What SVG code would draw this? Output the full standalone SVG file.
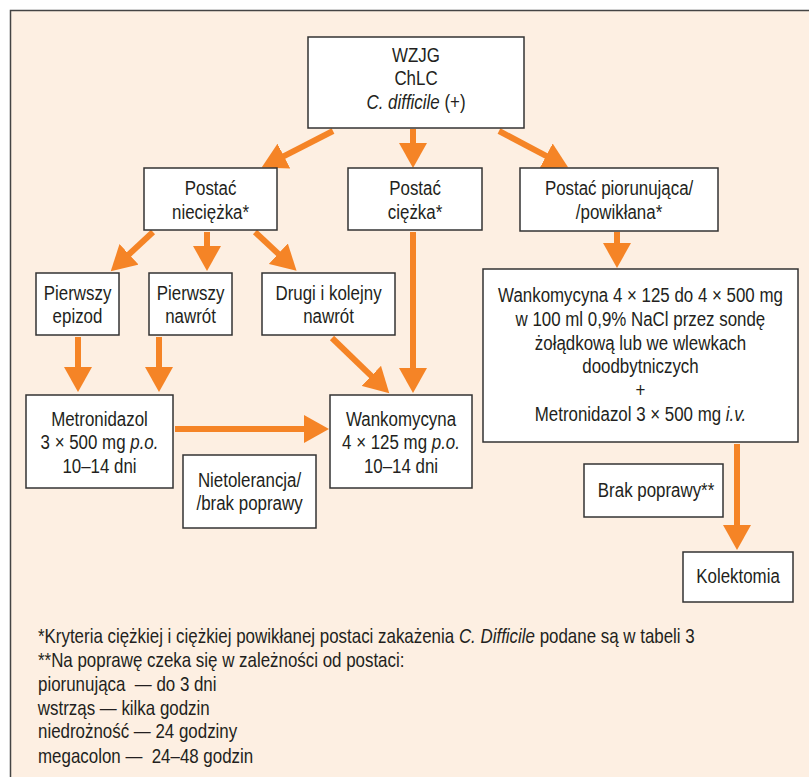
<svg xmlns="http://www.w3.org/2000/svg" width="809" height="777" viewBox="0 0 809 777">
<style>
.box{fill:#fff;stroke:#333;stroke-width:1.5}
.t{font-family:"Liberation Sans",Arial,sans-serif;font-size:21px;fill:#231f20;text-anchor:middle;transform:scaleX(0.805);transform-box:fill-box;transform-origin:center}
.f{font-family:"Liberation Sans",Arial,sans-serif;font-size:20.5px;fill:#231f20;transform:scaleX(0.825);transform-box:fill-box;transform-origin:left center}
.a{stroke:#f58426;stroke-width:6;fill:none;marker-end:url(#ah)}
</style>
<defs>
<marker id="ah" markerUnits="userSpaceOnUse" viewBox="0 -14 26 28" markerWidth="26" markerHeight="28" refX="1" refY="0" orient="auto">
<path d="M0,-14 L25,0 L0,14 Z" fill="#f58426"/>
</marker>
</defs>
<rect x="10.5" y="10.5" width="820" height="800" fill="#fdefe2" stroke="#444" stroke-width="1.5"/>
<g id="connectors">
<line class="a" x1="333" y1="131" x2="283" y2="156.6"/>
<line class="a" x1="413" y1="129" x2="413" y2="144"/>
<line class="a" x1="499" y1="131" x2="547" y2="156.3"/>
<line class="a" x1="153" y1="232" x2="128.3" y2="255"/>
<line class="a" x1="207" y1="232" x2="207" y2="247"/>
<line class="a" x1="255" y1="232" x2="279" y2="254.4"/>
<line class="a" x1="617" y1="232" x2="617" y2="244"/>
<line class="a" x1="78" y1="337" x2="78" y2="368"/>
<line class="a" x1="159" y1="337" x2="159" y2="368"/>
<line class="a" x1="175" y1="429" x2="305" y2="429"/>
<line class="a" x1="332" y1="338" x2="372" y2="376.6"/>
<line class="a" x1="413" y1="232" x2="413" y2="369"/>
<line class="a" x1="737" y1="444" x2="737" y2="526"/>
</g>
<g id="n_start"><rect class="box" x="308" y="37" width="216" height="91"/>
<text class="t" x="416" y="62">WZJG</text><text class="t" x="416" y="85">ChLC</text><text class="t" x="416" y="109"><tspan font-style="italic">C. difficile</tspan> (+)</text></g>
<g id="n_nieciezka"><rect class="box" x="144" y="168" width="133" height="62"/>
<text class="t" x="210.5" y="195">Postać</text><text class="t" x="210.5" y="219">nieciężka*</text></g>
<g id="n_ciezka"><rect class="box" x="348" y="168" width="134" height="62"/>
<text class="t" x="415" y="195">Postać</text><text class="t" x="415" y="219">ciężka*</text></g>
<g id="n_piorun"><rect class="box" x="520" y="168" width="198" height="63"/>
<text class="t" x="619" y="195">Postać piorunująca/</text><text class="t" x="619" y="219">/powikłana*</text></g>
<g id="n_epizod"><rect class="box" x="36" y="273" width="83" height="62"/>
<text class="t" x="77.5" y="300">Pierwszy</text><text class="t" x="77.5" y="323">epizod</text></g>
<g id="n_nawrot"><rect class="box" x="149" y="273" width="83" height="62"/>
<text class="t" x="190.5" y="300">Pierwszy</text><text class="t" x="190.5" y="323">nawrót</text></g>
<g id="n_drugi"><rect class="box" x="262" y="273" width="133" height="62"/>
<text class="t" x="328.5" y="300">Drugi i kolejny</text><text class="t" x="328.5" y="323">nawrót</text></g>
<g id="n_wank_big"><rect class="box" x="483" y="269" width="315" height="173"/>
<text class="t" x="640.5" y="302">Wankomycyna 4 × 125 do 4 × 500 mg</text>
<text class="t" x="640.5" y="326">w 100 ml 0,9% NaCl przez sondę</text>
<text class="t" x="640.5" y="350">żołądkową lub we wlewkach</text>
<text class="t" x="640.5" y="373">doodbytniczych</text>
<text class="t" x="640.5" y="397">+</text>
<text class="t" x="640.5" y="421">Metronidazol 3 × 500 mg <tspan font-style="italic">i.v.</tspan></text></g>
<g id="n_metro"><rect class="box" x="26" y="395" width="147" height="93"/>
<text class="t" x="99.5" y="426">Metronidazol</text><text class="t" x="99.5" y="449">3 × 500 mg <tspan font-style="italic">p.o.</tspan></text><text class="t" x="99.5" y="473">10–14 dni</text></g>
<g id="n_wank"><rect class="box" x="330" y="395" width="142" height="93"/>
<text class="t" x="401" y="426">Wankomycyna</text><text class="t" x="401" y="449">4 × 125 mg <tspan font-style="italic">p.o.</tspan></text><text class="t" x="401" y="473">10–14 dni</text></g>
<g id="n_nietol"><rect class="box" x="183" y="455" width="133" height="73"/>
<text class="t" x="249.5" y="487">Nietolerancja/</text><text class="t" x="249.5" y="510">/brak poprawy</text></g>
<g id="n_brak"><rect class="box" x="584" y="464" width="139" height="53"/>
<text class="t" x="656" y="497">Brak poprawy**</text></g>
<g id="n_kolekt"><rect class="box" x="683" y="552" width="110" height="50"/>
<text class="t" x="738" y="583">Kolektomia</text></g>
<g id="footnotes">
<text class="f" x="38" y="643">*Kryteria ciężkiej i ciężkiej powikłanej postaci zakażenia <tspan font-style="italic">C. Difficile</tspan> podane są w tabeli 3</text>
<text class="f" x="38" y="667">**Na poprawę czeka się w zależności od postaci:</text>
<text class="f" x="38" y="691" xml:space="preserve">piorunująca  — do 3 dni</text>
<text class="f" x="38" y="715">wstrząs — kilka godzin</text>
<text class="f" x="38" y="738">niedrożność — 24 godziny</text>
<text class="f" x="38" y="763" xml:space="preserve">megacolon —  24–48 godzin</text>
</g>
</svg>
